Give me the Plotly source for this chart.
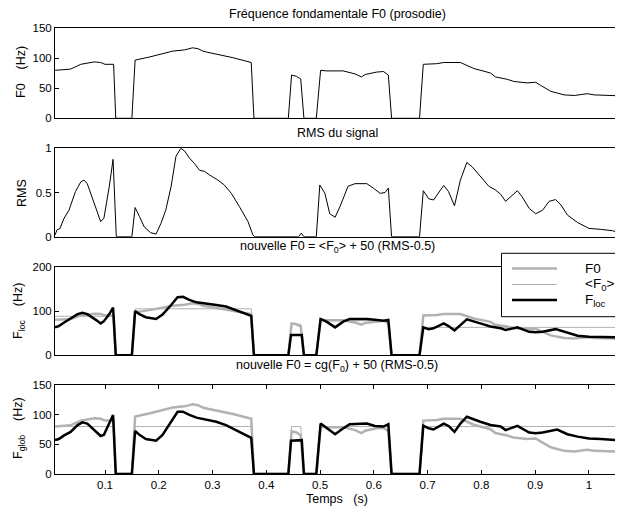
import plotly.graph_objects as go

# the page body has an 8px margin, so the figure is 8px smaller and positions are offset
OFF = 8
W, H = 623 - OFF, 512 - OFF

# ---------------- data ----------------
t_f0 = [0.007, 0.036, 0.055, 0.08, 0.092, 0.1, 0.116, 0.12, 0.15, 0.156, 0.182, 0.226, 0.248,
        0.263, 0.273, 0.282, 0.291, 0.338, 0.372, 0.377, 0.441, 0.447, 0.456, 0.464, 0.47, 0.493,
        0.501, 0.512, 0.543, 0.565, 0.577, 0.584, 0.605, 0.618, 0.627, 0.633, 0.685, 0.692, 0.717,
        0.73, 0.761, 0.773, 0.786, 0.817, 0.826, 0.848, 0.86, 0.885, 0.901, 0.91, 0.929, 0.954,
        0.973, 0.997, 1.01, 1.056]
f0 = [80, 82, 90, 94, 93, 90, 90, 0, 0, 97, 102, 112, 114,
      117.5, 116, 112, 110, 101, 93, 0, 0, 72, 70, 65.5, 0, 0,
      80, 79, 79, 74, 69, 73, 77, 78, 72, 0, 0, 90, 91,
      93, 93, 88, 83, 75.5, 69, 65, 61.5, 59, 60, 55, 45, 39,
      38, 41, 39, 37.5]

t_rms = [0.007, 0.011, 0.016, 0.024, 0.033, 0.045, 0.055, 0.061, 0.067, 0.08, 0.092, 0.098, 0.108,
         0.115, 0.121, 0.15, 0.156, 0.164, 0.173, 0.185, 0.195, 0.204, 0.213, 0.223, 0.232, 0.241,
         0.248, 0.257, 0.266, 0.276, 0.285, 0.294, 0.31, 0.322, 0.335, 0.35, 0.366, 0.375, 0.378,
         0.46, 0.465, 0.47, 0.493, 0.4995, 0.509, 0.518, 0.528, 0.537, 0.552, 0.565, 0.587, 0.599,
         0.612, 0.621, 0.627, 0.633, 0.685, 0.692, 0.702, 0.711, 0.72, 0.73, 0.739, 0.75, 0.761,
         0.773, 0.783, 0.798, 0.814, 0.826, 0.836, 0.845, 0.854, 0.867, 0.876, 0.889, 0.901, 0.914,
         0.926, 0.938, 0.948, 0.96, 0.979, 1.0, 1.022, 1.044, 1.056]
rms = [0.02, 0.08, 0.09, 0.21, 0.30, 0.51, 0.62, 0.64, 0.60, 0.38, 0.17, 0.21, 0.57,
       0.875, 0, 0, 0.33, 0.23, 0.11, 0.045, 0.03, 0.15, 0.30, 0.57, 0.91, 1.0,
       0.97, 0.89, 0.83, 0.75, 0.74, 0.70, 0.64, 0.585, 0.49, 0.34, 0.17, 0.02, 0,
       0, 0.04, 0, 0, 0.585, 0.49, 0.26, 0.22, 0.34, 0.57, 0.60, 0.60, 0.55,
       0.49, 0.50, 0.55, 0, 0, 0.52, 0.43, 0.415, 0.49, 0.58, 0.51, 0.35, 0.64,
       0.84, 0.79, 0.68, 0.57, 0.53, 0.48, 0.40, 0.45, 0.52, 0.45, 0.32, 0.26, 0.30,
       0.40, 0.42, 0.36, 0.245, 0.16, 0.094, 0.083, 0.068, 0.045]

# step series: mean F0 per voiced segment (local) and global mean
t_mean = [0.007, 0.116, 0.12, 0.15, 0.156, 0.372, 0.377, 0.441, 0.447, 0.464, 0.47, 0.493,
          0.501, 0.627, 0.633, 0.685, 0.692, 1.056]
f0_mean_loc = [88, 88, 0, 0, 105, 105, 0, 0, 70, 70, 0, 0, 78, 78, 0, 0, 63, 63]
f0_mean_glob = [80, 80, 0, 0, 80, 80, 0, 0, 80, 80, 0, 0, 80, 80, 0, 0, 80, 80]

t_loc = [0.007, 0.014, 0.024, 0.036, 0.049, 0.058, 0.067, 0.083, 0.092, 0.098, 0.108, 0.115,
         0.12, 0.15, 0.156, 0.164, 0.176, 0.195, 0.207, 0.223, 0.235, 0.245, 0.257, 0.27,
         0.288, 0.307, 0.325, 0.344, 0.363, 0.372, 0.377, 0.441, 0.446, 0.466, 0.47, 0.493,
         0.501, 0.512, 0.528, 0.543, 0.555, 0.587, 0.602, 0.618, 0.627, 0.633, 0.685, 0.692,
         0.702, 0.711, 0.73, 0.739, 0.75, 0.761, 0.773, 0.798, 0.817, 0.836, 0.845, 0.867,
         0.889, 0.901, 0.914, 0.938, 0.96, 0.979, 1.0, 1.05, 1.056]
f_loc = [63, 66, 74, 83, 93, 96, 93, 80, 72, 77, 93, 107.5,
         0, 0, 100, 93, 86, 82, 92, 113.5, 131, 132, 125, 119.5,
         117, 113.5, 110, 102, 93, 89, 0, 0, 46, 46, 0, 0,
         82, 76, 63, 76, 82, 82, 80, 78, 80, 0, 0, 63,
         59, 61, 72, 66, 56, 68, 81, 72, 65, 61, 57, 63,
         53, 52, 53, 59, 50, 44, 42, 41, 0]

t_glob = [0.007, 0.014, 0.024, 0.036, 0.049, 0.058, 0.067, 0.08, 0.092, 0.098, 0.108, 0.115,
          0.12, 0.15, 0.156, 0.164, 0.176, 0.195, 0.207, 0.223, 0.235, 0.245, 0.257, 0.27,
          0.288, 0.307, 0.325, 0.344, 0.363, 0.372, 0.377, 0.441, 0.446, 0.466, 0.47, 0.493,
          0.501, 0.512, 0.528, 0.54, 0.555, 0.587, 0.602, 0.618, 0.627, 0.633, 0.685, 0.692,
          0.702, 0.711, 0.73, 0.739, 0.75, 0.761, 0.773, 0.798, 0.817, 0.836, 0.845, 0.867,
          0.889, 0.901, 0.914, 0.941, 0.96, 0.979, 1.0, 1.022, 1.056]
f_glob = [57, 59, 65, 71, 82.5, 87, 85, 74, 64, 66, 85, 99.5,
          0, 0, 72.5, 66, 59, 56, 66, 88, 105, 105, 99.5, 95,
          91, 88, 82.5, 74, 66, 61, 0, 0, 56, 57, 0, 0,
          85, 77, 67, 75, 84, 85, 81, 80, 84, 0, 0, 81.5,
          77, 75, 85, 81, 71, 85, 96.5, 88, 82.5, 80, 74, 81,
          70, 68.5, 70, 75, 67, 63, 60, 59, 57]

x_ticks = [0.1, 0.2, 0.3, 0.4, 0.5, 0.6, 0.7, 0.8, 0.9, 1.0]
x_tick_text = ["0.1", "0.2", "0.3", "0.4", "0.5", "0.6", "0.7", "0.8", "0.9", "1"]
y_ticks = [[0, 50, 100, 150], [0, 0.5, 1], [0, 100, 200], [0, 50, 100, 150]]
y_tick_text = [["0", "50", "100", "150"], ["0", "0.5", "1"], ["0", "100", "200"], ["0", "50", "100", "150"]]
y_ranges = [[0, 150], [0, 1], [0, 200], [0, 150]]
x_range = [0.007, 1.056]

# ---------------- layout helpers (reference pixel -> paper) ----------------
def px_x(x):
    return (x - OFF) / W

def px_y(y):
    return 1 - (y - OFF) / H

GRAY = "#b2b2b2"
FONT = "Liberation Sans, Arial, Helvetica, sans-serif"
FS_TICK = 11.5
FS_TXT = 12.5
NB = "\u00a0"

panels_px = [(28.3, 118.3), (148.3, 236.7), (266.7, 355.3), (385, 474)]
x_dom = [px_x(55), px_x(619)]

fig = go.Figure()

def line(x, y, axis, color, width):
    fig.add_trace(go.Scatter(x=x, y=y, mode="lines", xaxis="x" + axis, yaxis="y" + axis,
                             line=dict(color=color, width=width), showlegend=False,
                             hoverinfo="skip"))

# panel 1
line(t_f0, f0, "", "black", 1)
# panel 2
line(t_rms, rms, "2", "black", 1)
# panel 3
line(t_f0, f0, "3", GRAY, 2.5)
line(t_mean, f0_mean_loc, "3", GRAY, 1)
line(t_loc, f_loc, "3", "black", 2.5)
# panel 4
line(t_f0, f0, "4", GRAY, 2.5)
line(t_mean, f0_mean_glob, "4", GRAY, 1)
line(t_glob, f_glob, "4", "black", 2.5)

layout = dict(width=W, height=H, margin=dict(l=0, r=0, t=0, b=0),
              paper_bgcolor="white", plot_bgcolor="white",
              font=dict(family=FONT, size=FS_TXT, color="black"), showlegend=False)

names = ["", "2", "3", "4"]
for i, (top, bot) in enumerate(panels_px):
    n = names[i]
    last = (i == 3)
    layout["xaxis" + n] = dict(
        domain=x_dom, range=x_range, anchor="y" + n,
        showline=True, mirror="ticks" if last else True, linecolor="black", linewidth=1,
        showgrid=False, zeroline=False,
        ticks="inside" if last else "", ticklen=4, tickcolor="black",
        tickvals=x_ticks if last else [], ticktext=x_tick_text if last else [],
        showticklabels=last, automargin=False, fixedrange=True,
        tickfont=dict(family=FONT, size=FS_TICK),
    )
    layout["yaxis" + n] = dict(
        domain=[px_y(bot), px_y(top)], range=y_ranges[i], anchor="x" + n,
        showline=True, mirror="ticks", linecolor="black", linewidth=1,
        showgrid=False, zeroline=False, ticks="inside", ticklen=4, tickcolor="black",
        tickvals=y_ticks[i], ticktext=y_tick_text[i], automargin=False, fixedrange=True,
        tickfont=dict(family=FONT, size=FS_TICK),
    )

fig.update_layout(**layout)

ann = []
cx = px_x((55 + 619) / 2)
titles = [
    ("Fréquence fondamentale F0 (prosodie)", 14),
    ("RMS du signal", 133),
    ("nouvelle F0 = &lt;F<sub>0</sub>&gt; + 50 (RMS-0.5)", 247),
    ("nouvelle F0 = cg(F<sub>0</sub>) + 50 (RMS-0.5)", 366),
]
for txt, y in titles:
    ann.append(dict(text=txt, x=cx, y=px_y(y), xref="paper", yref="paper",
                    xanchor="center", yanchor="middle", showarrow=False,
                    font=dict(family=FONT, size=FS_TXT)))

ylabels = [
    ("F0" + NB * 4 + "(Hz)", 21, 72),
    ("RMS", 22, 193),
    ("F<sub>loc</sub>" + NB * 4 + "(Hz)", 19, 311),
    ("F<sub>glob</sub>" + NB * 4 + "(Hz)", 19, 428),
]
for txt, x, y in ylabels:
    ann.append(dict(text=txt, x=px_x(x), y=px_y(y), xref="paper", yref="paper",
                    xanchor="center", yanchor="middle", textangle=-90, showarrow=False,
                    font=dict(family=FONT, size=FS_TXT)))

ann.append(dict(text="Temps" + NB * 3 + "(s)", x=cx, y=px_y(499), xref="paper", yref="paper",
                xanchor="center", yanchor="middle", showarrow=False,
                font=dict(family=FONT, size=FS_TXT)))

# legend (drawn manually to match the reference box)
shapes = [dict(type="rect", xref="paper", yref="paper", x0=px_x(501.5), x1=px_x(621.5),
               y0=px_y(316.7), y1=px_y(253.3), fillcolor="white",
               line=dict(color="black", width=1), layer="above")]
leg_items = [("F0", GRAY, 2.5, 268.5), ("&lt;F<sub>0</sub>&gt;", GRAY, 1, 284.5),
             ("F<sub>loc</sub>", "black", 2.5, 300)]
for txt, col, wdt, y in leg_items:
    shapes.append(dict(type="line", xref="paper", yref="paper", x0=px_x(512), x1=px_x(557),
                       y0=px_y(y), y1=px_y(y), line=dict(color=col, width=wdt), layer="above"))
    ann.append(dict(text=txt, x=px_x(583), y=px_y(y), xref="paper", yref="paper",
                    xanchor="left", yanchor="middle", showarrow=False,
                    font=dict(family=FONT, size=13.5)))

fig.update_layout(annotations=ann, shapes=shapes)

fig.write_html("out.html")
